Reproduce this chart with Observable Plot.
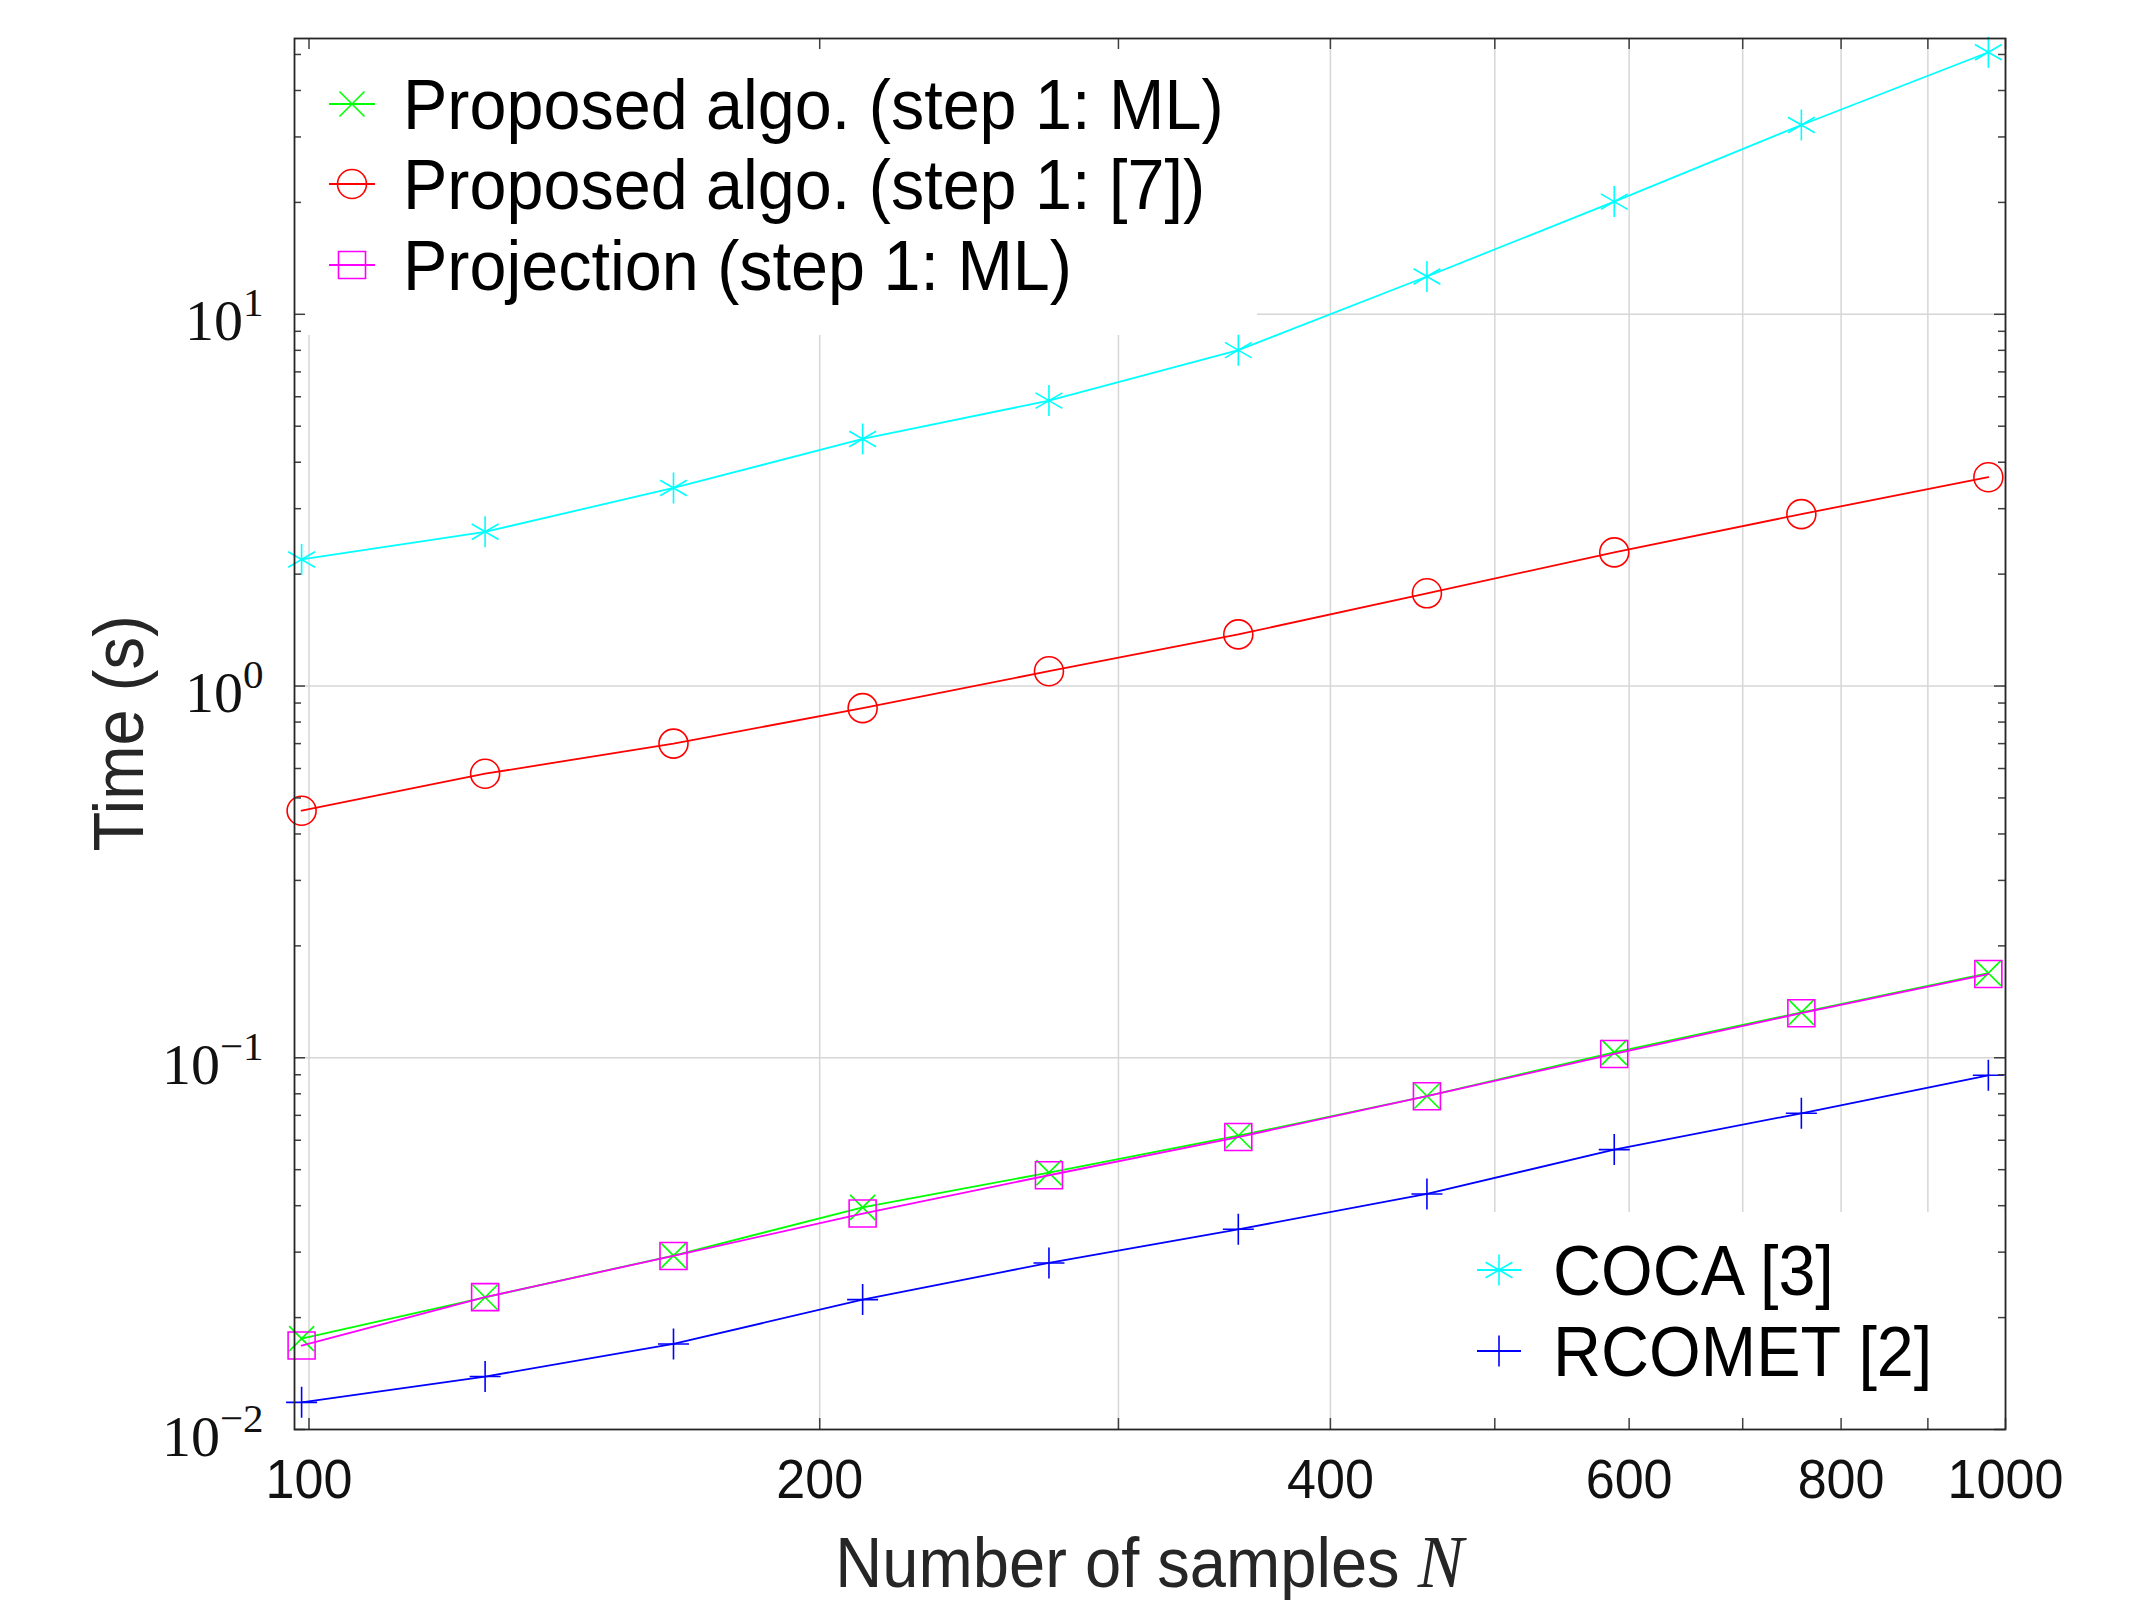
<!DOCTYPE html>
<html><head><meta charset="utf-8">
<script src="https://cdn.jsdelivr.net/npm/d3@7"></script>
<script src="https://cdn.jsdelivr.net/npm/@observablehq/plot@0.6"></script>
<style>
html,body{margin:0;padding:0;background:#fff;}
#chart{position:relative;width:2142px;height:1600px;}
</style></head><body><div id="chart"></div>
<script>
// ---------------- data ----------------
const sampleSizes = [99, 127, 164, 212, 273, 353, 456, 588, 758, 977];
const timeProposedML   = [0.01756, 0.02268, 0.02937, 0.0396, 0.0491, 0.0617, 0.0789, 0.1034, 0.1325, 0.1689];
const timeProposed7    = [0.462, 0.581, 0.700, 0.872, 1.096, 1.377, 1.776, 2.288, 2.90, 3.645];
const timeProjectionML = [0.01682, 0.0227, 0.0293, 0.0381, 0.0483, 0.0612, 0.0788, 0.1024, 0.1318, 0.168];
const timeCOCA         = [2.19, 2.60, 3.41, 4.62, 5.86, 8.01, 12.64, 20.1, 32.3, 50.7];
const timeRCOMET       = [0.01183, 0.01388, 0.01699, 0.02236, 0.02806, 0.03456, 0.04302, 0.05662, 0.07091, 0.0897];

const seriesNames  = ["Proposed algo. (step 1: ML)", "Proposed algo. (step 1: [7])", "Projection (step 1: ML)", "COCA [3]", "RCOMET [2]"];
const seriesColors = ["#00ff00", "#ff0000", "#ff00ff", "#00ffff", "#0000ff"];

const xTickLabels = [100, 200, 400, 600, 800, 1000];
const xGridValues = [100, 200, 300, 400, 500, 600, 700, 800, 900, 1000];
const yDecades    = [0.01, 0.1, 1, 10];
const yTickLabels = ["10^\u22122", "10^\u22121", "10^0", "10^1"];
const yGridValues = [0.1, 1, 10];
const yMinor = [0.02,0.03,0.04,0.05,0.06,0.07,0.08,0.09, 0.2,0.3,0.4,0.5,0.6,0.7,0.8,0.9, 2,3,4,5,6,7,8,9, 20,30,40,50];

// ---------------- marker symbols ----------------
const symTimes = {draw(c, s){const r=Math.sqrt(s/Math.PI); c.moveTo(-r,-r); c.lineTo(r,r); c.moveTo(-r,r); c.lineTo(r,-r);}};
const symCircle = {draw(c, s){const r=Math.sqrt(s/Math.PI); c.moveTo(r,0); c.arc(0,0,r,0,2*Math.PI);}};
const symSquare = {draw(c, s){const r=Math.sqrt(s/Math.PI); c.moveTo(-r,-r); c.lineTo(r,-r); c.lineTo(r,r); c.lineTo(-r,r); c.closePath();}};
const symAsterisk = {draw(c, s){const r=Math.sqrt(s/Math.PI), u=r*Math.sqrt(3)/2, t=r/2; c.moveTo(0,-r); c.lineTo(0,r); c.moveTo(-u,-t); c.lineTo(u,t); c.moveTo(-u,t); c.lineTo(u,-t);}};
const symPlus = {draw(c, s){const r=Math.sqrt(s/Math.PI); c.moveTo(-r,0); c.lineTo(r,0); c.moveTo(0,-r); c.lineTo(0,r);}};
const seriesSymbols = [symTimes, symCircle, symSquare, symAsterisk, symPlus];
const markerRadius = [12.5, 14.5, 13.5, 15.5, 15.5];

const seriesValues = [timeProposedML, timeProposed7, timeProjectionML, timeCOCA, timeRCOMET];
const series = seriesValues.map((vals, i) => ({
  name: seriesNames[i], color: seriesColors[i], symbol: seriesSymbols[i], r: markerRadius[i],
  rows: sampleSizes.map((n, j) => ({n, t: vals[j]}))
}));

// ---------------- layout ----------------
const W = 2142, H = 1600;
const mL = 294, mR = 137, mT = 38, mB = 171;
const fW = W - mL - mR, fH = H - mT - mB;
const sans = "Liberation Sans, Arial, Helvetica, sans-serif";
const serif = "Liberation Serif, DejaVu Serif, Times New Roman, serif";
const tickColor = "#404040";

const marks = [
  Plot.ruleX(xGridValues, {x: d => d, stroke: "#d6d6d6", strokeWidth: 1.5}),
  Plot.ruleY(yGridValues, {y: d => d, stroke: "#d6d6d6", strokeWidth: 1.5}),
];
series.forEach(s => {
  marks.push(Plot.line(s.rows, {x: "n", y: "t", stroke: s.color, strokeWidth: 1.8}));
  marks.push(Plot.dot(s.rows, {x: "n", y: "t", symbol: s.symbol, r: s.r, fill: "none", stroke: s.color, strokeWidth: 1.6}));
});
marks.push(
  Plot.ruleX(xGridValues, {x: d => d, insetTop: fH - 11, stroke: tickColor, strokeWidth: 1.5}),
  Plot.ruleX(xGridValues, {x: d => d, insetBottom: fH - 11, stroke: tickColor, strokeWidth: 1.5}),
  Plot.ruleY(yDecades, {y: d => d, insetRight: fW - 11, stroke: tickColor, strokeWidth: 1.5}),
  Plot.ruleY(yDecades, {y: d => d, insetLeft: fW - 11, stroke: tickColor, strokeWidth: 1.5}),
  Plot.ruleY(yMinor, {y: d => d, insetRight: fW - 7, stroke: tickColor, strokeWidth: 1.5}),
  Plot.ruleY(yMinor, {y: d => d, insetLeft: fW - 7, stroke: tickColor, strokeWidth: 1.5}),
  Plot.frame({stroke: "#262626", strokeWidth: 1.8}),
  Plot.text(xTickLabels, {x: d => d, text: d => String(d), frameAnchor: "bottom", lineAnchor: "bottom", dy: 68,
    fontSize: 56, fontFamily: sans, fill: "#111", textAnchor: "middle"}),
  Plot.text(yDecades, {y: d => d, text: (d, i) => yTickLabels[i], frameAnchor: "left", lineAnchor: "bottom", dx: -31, dy: 26,
    fontSize: 58, fontFamily: serif, fill: "#111", textAnchor: "end"})
);

const svg = Plot.plot({
  width: W, height: H,
  marginLeft: mL, marginRight: mR, marginTop: mT, marginBottom: mB,
  x: {type: "log", domain: [98.05, 1000], axis: null},
  y: {type: "log", domain: [0.01, 55.2], axis: null},
  style: {background: "white", overflow: "visible"},
  marks
});
document.getElementById("chart").appendChild(svg);

const NS = "http://www.w3.org/2000/svg";
function el(name, attrs, parent) {
  const e = document.createElementNS(NS, name);
  for (const k in attrs) e.setAttribute(k, attrs[k]);
  if (parent) parent.appendChild(e);
  return e;
}

// tick label post-processing: condensed sans x labels, superscript exponents on y labels
const xLabelSet = new Set(xTickLabels.map(String));
Array.from(svg.querySelectorAll("text")).forEach(t => {
  const s = t.textContent;
  if (s.includes("^")) {
    const [base, exp] = s.split("^");
    t.textContent = base;
    const ts = el("tspan", {dy: -24, "font-size": 41}, t);
    ts.textContent = exp;
  } else if (xLabelSet.has(s)) {
    t.setAttribute("transform", (t.getAttribute("transform") || "") + " scale(0.93,1)");
  }
});

// legends (white boxes under the data, above the grid)
const firstLine = svg.querySelector('g[aria-label="line"]');
const legendLayer = el("g", {"aria-label": "legend"});
svg.insertBefore(legendLayer, firstLine);
const legendBoxes = [
  {box: [mL, mT, 1257, 335], items: [0, 1, 2], lineX: [329, 375], textX: 403, baselines: [129, 209, 290]},
  {box: [1442, 1212, W - mR, H - mB], items: [3, 4], lineX: [1477, 1521], textX: 1553, baselines: [1295, 1376]}
];
legendBoxes.forEach(L => {
  el("rect", {x: L.box[0], y: L.box[1], width: L.box[2] - L.box[0], height: L.box[3] - L.box[1], fill: "white"}, legendLayer);
  L.items.forEach((si, k) => {
    const s = series[si];
    const b = L.baselines[k], my = b - 25, mx = (L.lineX[0] + L.lineX[1]) / 2;
    el("line", {x1: L.lineX[0], x2: L.lineX[1], y1: my, y2: my, stroke: s.color, "stroke-width": 1.8}, legendLayer);
    el("path", {d: d3.symbol(s.symbol, Math.PI * s.r * s.r)(), transform: `translate(${mx},${my})`,
      fill: "none", stroke: s.color, "stroke-width": 1.6}, legendLayer);
    const t = el("text", {transform: `translate(${L.textX},${b}) scale(0.95,1)`, "text-anchor": "start",
      "font-family": sans, "font-size": 70, fill: "#000"}, legendLayer);
    t.textContent = s.name;
  });
});

// axis titles
const xl = el("text", {transform: `translate(${mL + fW / 2},1587) scale(0.93,1)`, "text-anchor": "middle",
  "font-family": sans, "font-size": 70, fill: "#262626"}, svg);
xl.appendChild(document.createTextNode("Number of samples "));
const nT = el("tspan", {"font-family": serif, "font-style": "italic", "font-size": 74}, xl);
nT.textContent = "N";
const yl = el("text", {transform: `translate(143,${mT + fH / 2}) rotate(-90) scale(0.93,1)`, "text-anchor": "middle",
  "font-family": sans, "font-size": 70, fill: "#262626"}, svg);
yl.textContent = "Time (s)";
</script></body></html>
